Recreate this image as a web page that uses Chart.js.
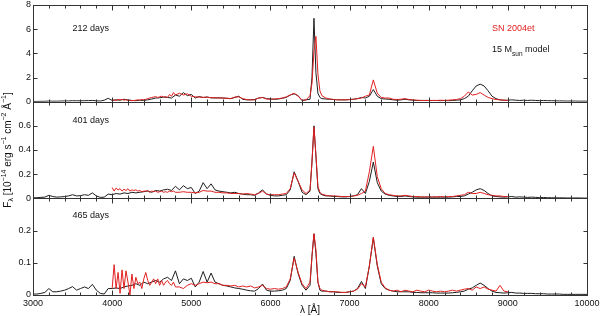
<!DOCTYPE html>
<html>
<head>
<meta charset="utf-8">
<script src="https://cdn.jsdelivr.net/npm/chart.js@4.4.1/dist/chart.umd.min.js"></script>
<style>
  html, body { margin: 0; padding: 0; background: #fff; }
  #wrap { position: relative; width: 600px; height: 316px; }
</style>
</head>
<body>
<div id="wrap"><canvas id="spec"></canvas></div>
<script>
// wavelength grids in Angstrom
const modelWave = [
  3000, 3050, 3100, 3150, 3200, 3250, 3300, 3350, 3400, 3450,
  3500, 3550, 3600, 3650, 3700, 3750, 3800, 3850, 3900, 3950,
  4000, 4050, 4100, 4150, 4200, 4250, 4300, 4350, 4400, 4450,
  4500, 4550, 4600, 4650, 4700, 4750, 4800, 4850, 4900, 4950,
  5000, 5050, 5100, 5150, 5200, 5250, 5300, 5350, 5400, 5450,
  5500, 5550, 5600, 5650, 5700, 5750, 5800, 5850, 5900, 5950,
  6000, 6050, 6100, 6150, 6200, 6250, 6300, 6350, 6400, 6450, 6500,
  6525, 6550, 6575, 6600, 6625, 6650,
  6700, 6750, 6800, 6850, 6900, 6950,
  7000, 7050, 7100, 7150, 7200, 7250, 7300, 7350, 7400, 7450,
  7500, 7550, 7600, 7650, 7700, 7750, 7800, 7850, 7900, 7950,
  8000, 8050, 8100, 8150, 8200, 8250, 8300, 8350, 8400, 8450,
  8500, 8550, 8600, 8650, 8700, 8750, 8800, 8850, 8900, 8950,
  9000, 9050, 9100, 9150, 9200, 9250, 9300, 9350, 9400, 9450,
  9500, 9550, 9600, 9650, 9700, 9750, 9800, 9850, 9900, 9950,
  10000
];
const obsWave = [
  4000, 4025, 4050, 4075, 4100, 4125, 4150, 4175, 4200, 4225,
  4250, 4275, 4300, 4325, 4350, 4375, 4400, 4425, 4450, 4475,
  4500, 4525, 4550, 4575, 4600, 4625, 4650, 4675, 4700, 4725,
  4750, 4775, 4800,
  4850, 4900, 4950,
  5000, 5050, 5100, 5150, 5200, 5250, 5300, 5350, 5400, 5450,
  5500, 5550, 5600, 5650, 5700, 5750, 5800, 5850, 5900, 5950,
  6000, 6050, 6100, 6150, 6200, 6250, 6300, 6350, 6400, 6450, 6500,
  6525, 6550, 6575, 6600, 6625, 6650,
  6700, 6750, 6800, 6850, 6900, 6950,
  7000, 7050, 7100, 7150, 7200, 7250, 7300, 7350, 7400, 7450,
  7500, 7550, 7600, 7650, 7700, 7750, 7800, 7850, 7900, 7950,
  8000, 8050, 8100, 8150, 8200, 8250, 8300, 8350, 8400, 8450,
  8500, 8550, 8600, 8650, 8700, 8750, 8800, 8850, 8900, 8950,
  9000
];

// 15 Msun model, flux in 1e-14 erg/s/cm2/A
const model212 = [
  0.02, 0.02, 0.03, 0.03, 0.05, 0.04, 0.04, 0.05, 0.06, 0.06,
  0.08, 0.07, 0.07, 0.08, 0.09, 0.10, 0.07, 0.05, 0.12, 0.28,
  0.10, 0.15, 0.12, 0.20, 0.14, 0.10, 0.08, 0.12, 0.10, 0.15,
  0.22, 0.30, 0.32, 0.38, 0.35, 0.30, 0.55, 0.45, 0.75, 0.50,
  0.60, 0.30, 0.42, 0.35, 0.38, 0.32, 0.30, 0.32, 0.30, 0.28,
  0.25, 0.35, 0.45, 0.20, 0.15, 0.15, 0.18, 0.30, 0.35, 0.25,
  0.22, 0.20, 0.22, 0.28, 0.35, 0.55, 0.65, 0.50, 0.08, 0.15, 0.20,
  2.0, 6.9, 2.4, 0.7, 0.35, 0.25,
  0.22, 0.20, 0.18, 0.15, 0.15, 0.15,
  0.18, 0.20, 0.25, 0.35, 0.30, 0.45, 1.0, 0.45, 0.25, 0.22,
  0.20, 0.15, 0.12, 0.15, 0.20, 0.15, 0.12, 0.10, 0.10, 0.10,
  0.10, 0.10, 0.10, 0.08, 0.10, 0.08, 0.10, 0.12, 0.15, 0.25,
  0.45, 0.90, 1.30, 1.45, 1.30, 0.90, 0.45, 0.25, 0.15, 0.12,
  0.12, 0.15, 0.12, 0.10, 0.12, 0.10, 0.12, 0.10, 0.08, 0.10,
  0.08, 0.08, 0.07, 0.06, 0.06, 0.05, 0.05, 0.05, 0.04, 0.04,
  0.04
];
const model401 = [
  0.005, 0.005, 0.008, 0.01, 0.025, 0.015, 0.01, 0.012, 0.015, 0.02,
  0.03, 0.02, 0.022, 0.03, 0.025, 0.045, 0.02, 0.008, 0.01, 0.035,
  0.03, 0.04, 0.035, 0.045, 0.04, 0.05, 0.045, 0.05, 0.055, 0.06,
  0.05, 0.065, 0.06, 0.07, 0.075, 0.065, 0.10, 0.07, 0.105, 0.08,
  0.09, 0.04, 0.06, 0.13, 0.08, 0.12, 0.07, 0.06, 0.055, 0.05,
  0.045, 0.05, 0.04, 0.035, 0.03, 0.03, 0.025, 0.045, 0.07, 0.035,
  0.025, 0.02, 0.02, 0.025, 0.03, 0.07, 0.22, 0.14, 0.05, 0.03, 0.06,
  0.30, 0.60, 0.35, 0.08, 0.04, 0.03,
  0.02, 0.02, 0.015, 0.015, 0.012, 0.012,
  0.015, 0.02, 0.03, 0.08, 0.04, 0.14, 0.30, 0.13, 0.06, 0.035,
  0.025, 0.02, 0.015, 0.015, 0.02, 0.015, 0.012, 0.01, 0.01, 0.01,
  0.01, 0.01, 0.01, 0.01, 0.01, 0.01, 0.012, 0.015, 0.015, 0.02,
  0.035, 0.05, 0.07, 0.08, 0.065, 0.04, 0.02, 0.015, 0.012, 0.01,
  0.012, 0.015, 0.01, 0.012, 0.01, 0.008, 0.01, 0.008, 0.006, 0.007,
  0.005, 0.005, 0.004, 0.004, 0.004, 0.003, 0.003, 0.003, 0.003, 0.002,
  0.002
];
const model465 = [
  0.003, 0.003, 0.005, 0.008, 0.02, 0.01, 0.01, 0.012, 0.015, 0.02,
  0.026, 0.015, 0.02, 0.025, 0.02, 0.033, 0.015, 0.005, 0.003, 0.02,
  0.02, 0.022, 0.02, 0.025, 0.028, 0.03, 0.035, 0.03, 0.04, 0.035,
  0.04, 0.045, 0.04, 0.05, 0.055, 0.045, 0.075, 0.035, 0.05, 0.045,
  0.052, 0.025, 0.04, 0.073, 0.04, 0.068, 0.04, 0.035, 0.03, 0.028,
  0.025, 0.022, 0.02, 0.018, 0.015, 0.013, 0.012, 0.02, 0.034, 0.015,
  0.012, 0.012, 0.013, 0.015, 0.02, 0.045, 0.12, 0.066, 0.03, 0.015, 0.03,
  0.12, 0.19, 0.13, 0.04, 0.015, 0.012,
  0.012, 0.01, 0.01, 0.008, 0.008, 0.008,
  0.01, 0.012, 0.02, 0.042, 0.02, 0.09, 0.177, 0.09, 0.035, 0.02,
  0.015, 0.012, 0.01, 0.01, 0.01, 0.01, 0.008, 0.008, 0.007, 0.007,
  0.007, 0.007, 0.006, 0.006, 0.006, 0.006, 0.007, 0.008, 0.01, 0.012,
  0.018, 0.022, 0.03, 0.037, 0.03, 0.02, 0.012, 0.008, 0.007, 0.006,
  0.007, 0.008, 0.006, 0.006, 0.005, 0.005, 0.005, 0.004, 0.004, 0.004,
  0.003, 0.003, 0.003, 0.003, 0.002, 0.002, 0.002, 0.002, 0.002, 0.002,
  0.002
];

// SN 2004et observed spectra
const obs212 = [
  0.12, 0.15, 0.10, 0.18, 0.14, 0.20, 0.12, 0.16, 0.10, 0.12,
  0.08, 0.10, 0.12, 0.15, 0.12, 0.18, 0.15, 0.20, 0.25, 0.30,
  0.35, 0.38, 0.42, 0.35, 0.40, 0.45, 0.38, 0.42, 0.35, 0.60,
  0.45, 0.75, 0.55,
  0.70, 0.55, 0.65,
  0.45, 0.40, 0.38, 0.35, 0.38, 0.32, 0.33, 0.30, 0.30, 0.28,
  0.26, 0.38, 0.40, 0.25, 0.18, 0.15, 0.15, 0.30, 0.35, 0.22,
  0.20, 0.22, 0.25, 0.30, 0.40, 0.55, 0.70, 0.45, 0.12, 0.15, 0.50,
  1.5, 4.2, 5.4, 2.3, 0.9, 0.5,
  0.30, 0.22, 0.18, 0.16, 0.15, 0.15,
  0.17, 0.20, 0.25, 0.30, 0.45, 0.55, 1.8, 0.7, 0.35, 0.30,
  0.30, 0.20, 0.18, 0.20, 0.25, 0.18, 0.15, 0.12, 0.10, 0.10,
  0.10, 0.10, 0.10, 0.12, 0.10, 0.12, 0.15, 0.18, 0.25, 0.45,
  0.80, 0.55, 0.60, 0.75, 0.55, 0.35, 0.25, 0.18, 0.15, 0.12,
  0.10
];
const obs401 = [
  0.09, 0.06, 0.085, 0.07, 0.08, 0.06, 0.075, 0.065, 0.08, 0.06,
  0.07, 0.065, 0.07, 0.06, 0.065, 0.055, 0.06, 0.06, 0.065, 0.05,
  0.06, 0.055, 0.06, 0.05, 0.055, 0.06, 0.05, 0.055, 0.05, 0.06,
  0.055, 0.06, 0.05,
  0.05, 0.055, 0.05,
  0.05, 0.045, 0.05, 0.065, 0.06, 0.06, 0.05, 0.05, 0.045, 0.045,
  0.04, 0.04, 0.04, 0.035, 0.04, 0.035, 0.03, 0.04, 0.06, 0.035,
  0.03, 0.03, 0.03, 0.035, 0.04, 0.08, 0.21, 0.14, 0.07, 0.04, 0.07,
  0.30, 0.59, 0.36, 0.10, 0.05, 0.035,
  0.025, 0.02, 0.02, 0.018, 0.015, 0.015,
  0.015, 0.02, 0.025, 0.04, 0.06, 0.22, 0.43, 0.18, 0.08, 0.04,
  0.03, 0.025, 0.02, 0.02, 0.025, 0.02, 0.015, 0.015, 0.012, 0.012,
  0.012, 0.012, 0.012, 0.015, 0.012, 0.015, 0.015, 0.02, 0.025, 0.03,
  0.05, 0.04, 0.04, 0.05, 0.04, 0.03, 0.025, 0.02, 0.02, 0.015,
  0.015
];
const obs465 = [
  0.02, 0.094, 0.02, 0.07, 0.005, 0.078, 0.02, 0.075, 0.04, 0.0,
  0.065, 0.02, 0.055, 0.035, 0.04, 0.02, 0.05, 0.07, 0.045, 0.03,
  0.04, 0.05, 0.035, 0.05, 0.03, 0.045, 0.03, 0.04, 0.045, 0.035,
  0.03, 0.04, 0.025,
  0.025, 0.02, 0.03,
  0.035, 0.03, 0.035, 0.04, 0.038, 0.04, 0.035, 0.035, 0.03, 0.03,
  0.028, 0.03, 0.025, 0.028, 0.025, 0.028, 0.022, 0.025, 0.03, 0.02,
  0.018, 0.02, 0.018, 0.02, 0.025, 0.05, 0.115, 0.07, 0.035, 0.02, 0.04,
  0.12, 0.19, 0.14, 0.04, 0.02, 0.015,
  0.012, 0.01, 0.01, 0.01, 0.008, 0.008,
  0.01, 0.012, 0.018, 0.035, 0.025, 0.09, 0.18, 0.095, 0.04, 0.022,
  0.015, 0.012, 0.015, 0.01, 0.015, 0.012, 0.01, 0.015, 0.012, 0.01,
  0.015, 0.012, 0.01, 0.012, 0.01, 0.012, 0.015, 0.012, 0.015, 0.018,
  0.02, 0.015, 0.025, 0.02, 0.025, 0.018, 0.015, 0.012, 0.03, 0.012,
  0.01
];

// tick labels
const xTicks = [3000, 4000, 5000, 6000, 7000, 8000, 9000, 10000];
const yTicks212 = [0, 2, 4, 6, 8];
const yTicks401 = [0, 0.2, 0.4, 0.6];
const yTicks465 = [0, 0.1, 0.2];

const panelIds = ['y212', 'y401', 'y465'];
const panelNames = ['212 days', '401 days', '465 days'];

const FONT = '"Liberation Sans", Arial, Helvetica, sans-serif';
const RED = 'rgb(226, 32, 32)';
const BLACK = '#1e1e1e';

Chart.defaults.font.family = FONT;
Chart.defaults.font.size = 9;
Chart.defaults.color = '#111';

function toPoints(wave, flux) {
  return wave.map((w, i) => ({ x: w, y: flux[i] }));
}

function panelAxis(max, tickList) {
  return {
    type: 'linear',
    position: 'left',
    stack: 'panels',
    stackWeight: 1,
    min: 0,
    max: max,
    afterBuildTicks: s => { s.ticks = tickList.map(v => ({ value: v })); },
    ticks: { autoSkip: false, padding: 2, callback: v => String(v) },
    grid: { display: false, drawTicks: false },
    border: { display: false },
    afterFit: s => { s.width = 33; s.paddingTop = 0; s.paddingBottom = 0; }
  };
}

function richText(ctx, parts, x, y) {
  // parts: [text, size, dy]; drawn centred on x
  let total = 0;
  parts.forEach(p => { ctx.font = p[1] + 'px ' + FONT; total += ctx.measureText(p[0]).width; });
  let cx = x - total / 2;
  parts.forEach(p => {
    ctx.font = p[1] + 'px ' + FONT;
    ctx.fillText(p[0], cx, y + p[2]);
    cx += ctx.measureText(p[0]).width;
  });
}

const framePlugin = {
  id: 'frame',
  afterDraw(chart) {
    const ctx = chart.ctx;
    const xs = chart.scales.x;
    const left = Math.round(xs.left) + 0.5;
    const right = Math.round(xs.right) + 0.5;
    ctx.save();
    ctx.strokeStyle = '#333';
    ctx.lineWidth = 1;
    panelIds.forEach((id, k) => {
      const ys = chart.scales[id];
      const top = Math.round(ys.top) + 0.5;
      const bot = Math.round(ys.bottom) + 0.5;
      ctx.strokeRect(left, top, right - left, bot - top);
      ctx.beginPath();
      for (let w = 3000; w <= 10000; w += 200) {
        const px = Math.round(xs.getPixelForValue(w)) + 0.5;
        const len = w % 1000 === 0 ? 5 : 3;
        ctx.moveTo(px, top); ctx.lineTo(px, top + len);
        ctx.moveTo(px, bot); ctx.lineTo(px, bot - len);
      }
      ys.ticks.forEach(t => {
        if (t.value <= ys.min || t.value >= ys.max) return;
        const py = Math.round(ys.getPixelForValue(t.value)) + 0.5;
        ctx.moveTo(left, py); ctx.lineTo(left + 4, py);
        ctx.moveTo(right, py); ctx.lineTo(right - 4, py);
      });
      ctx.stroke();

      ctx.fillStyle = '#111';
      ctx.font = '9px ' + FONT;
      ctx.textBaseline = 'middle';
      ctx.textAlign = 'left';
      ctx.fillText(panelNames[k], xs.getPixelForValue(3500), ys.top + [24, 19, 17][k]);
    });

    // legend text in the top panel
    const y1 = chart.scales.y212;
    const lx = xs.getPixelForValue(8800);
    ctx.textAlign = 'left';
    ctx.textBaseline = 'middle';
    ctx.fillStyle = RED;
    ctx.font = '9px ' + FONT;
    ctx.fillText('SN 2004et', lx, y1.top + 24);
    ctx.fillStyle = '#111';
    let cx = lx;
    [['15 M', 9, 0], ['sun', 6.5, 4], [' model', 9, 0]].forEach(p => {
      ctx.font = p[1] + 'px ' + FONT;
      ctx.fillText(p[0], cx, y1.top + 45 + p[2]);
      cx += ctx.measureText(p[0]).width;
    });

    // rotated y-axis title
    const area = chart.chartArea;
    ctx.translate(8, (area.top + area.bottom) / 2);
    ctx.rotate(-Math.PI / 2);
    ctx.textAlign = 'left';
    ctx.textBaseline = 'middle';
    richText(ctx, [
      ['F', 10, 0], ['\u03bb', 7, 3], [' [10', 10, 0], ['\u221214', 7, -4],
      [' erg s', 10, 0], ['\u22121', 7, -4], [' cm', 10, 0], ['\u22122', 7, -4],
      [' \u00c5', 10, 0], ['\u22121', 7, -4], [']', 10, 0]
    ], 0, 0);
    ctx.restore();
  }
};

const lineStyle = { borderWidth: 1, pointRadius: 0, fill: false, tension: 0 };

const datasets = [
  { ...lineStyle, label: 'model 212', data: toPoints(modelWave, model212), yAxisID: 'y212', borderColor: BLACK, order: 1 },
  { ...lineStyle, label: 'model 401', data: toPoints(modelWave, model401), yAxisID: 'y401', borderColor: BLACK, order: 1 },
  { ...lineStyle, label: 'model 465', data: toPoints(modelWave, model465), yAxisID: 'y465', borderColor: BLACK, order: 1 },
  { ...lineStyle, label: 'SN 2004et 212', data: toPoints(obsWave, obs212), yAxisID: 'y212', borderColor: RED, order: 0 },
  { ...lineStyle, label: 'SN 2004et 401', data: toPoints(obsWave, obs401), yAxisID: 'y401', borderColor: RED, order: 0 },
  { ...lineStyle, label: 'SN 2004et 465', data: toPoints(obsWave, obs465), yAxisID: 'y465', borderColor: RED, order: 0 }
];

new Chart(document.getElementById('spec'), {
  type: 'line',
  data: { datasets: datasets },
  options: {
    responsive: true,
    maintainAspectRatio: false,
    animation: false,
    devicePixelRatio: 1,
    layout: { padding: { left: 0, right: 13, top: 5, bottom: 0 } },
    plugins: { legend: { display: false }, tooltip: { enabled: false } },
    scales: {
      x: {
        type: 'linear',
        min: 3000,
        max: 10000,
        afterBuildTicks: s => { s.ticks = xTicks.map(v => ({ value: v })); },
        ticks: { autoSkip: false, maxRotation: 0, padding: 3, callback: v => String(v) },
        grid: { display: false, drawTicks: false },
        border: { display: false },
        title: { display: true, text: '\u03bb [\u00c5]', padding: { top: 0, bottom: 0 }, font: { size: 10 } },
        afterFit: s => { s.height = 21; s.paddingLeft = 0; s.paddingRight = 0; }
      },
      y465: panelAxis(0.3, yTicks465),
      y401: panelAxis(0.8, yTicks401),
      y212: panelAxis(8, yTicks212)
    }
  },
  plugins: [framePlugin]
});
</script>
</body>
</html>
